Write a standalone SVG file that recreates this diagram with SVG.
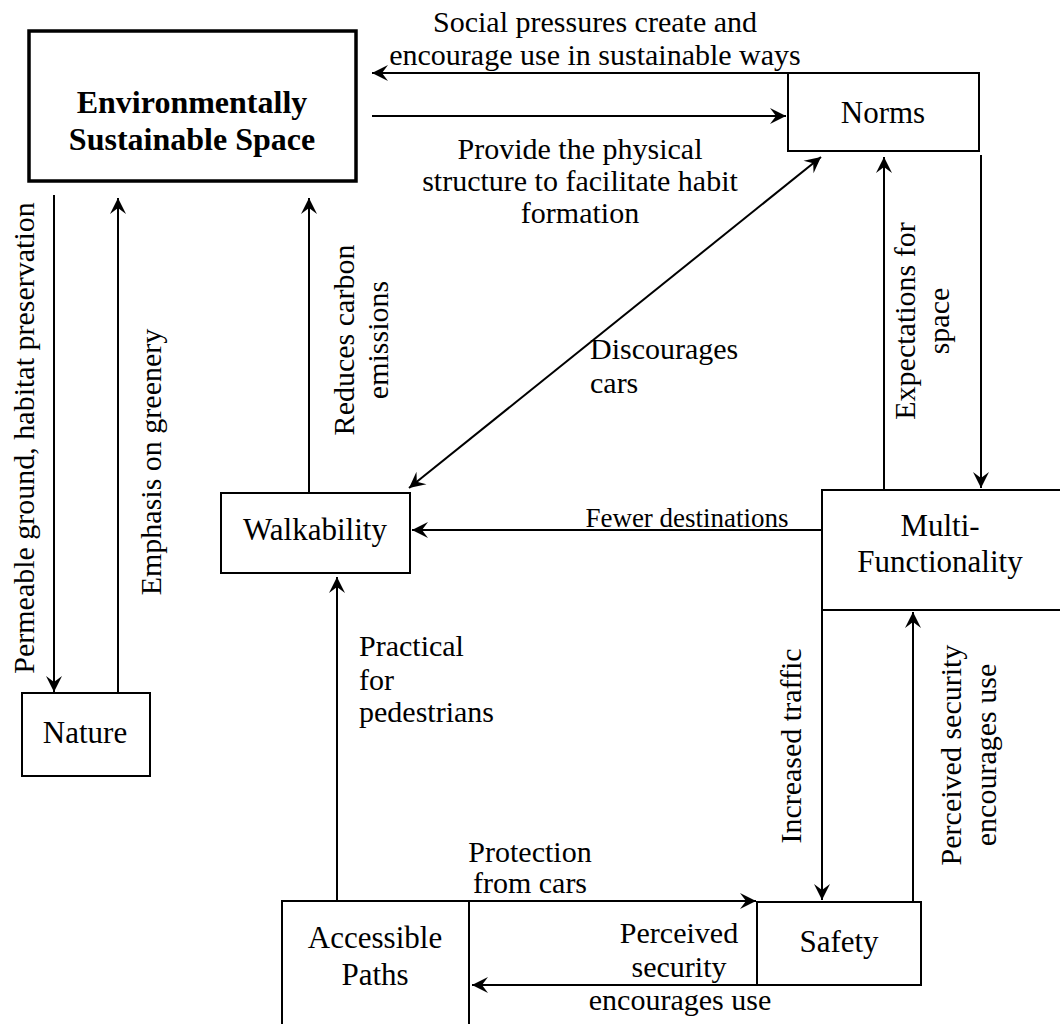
<svg xmlns="http://www.w3.org/2000/svg" width="1060" height="1024" viewBox="0 0 1060 1024">
<defs>
<style>
.box{fill:#fff;stroke:#000;stroke-width:2}
.bold{stroke-width:3.5}
.t{font-family:"Liberation Serif","Times New Roman",serif;font-size:30px;fill:#000}
.n{font-family:"Liberation Serif","Times New Roman",serif;font-size:31px;fill:#000;text-anchor:middle}
.c{text-anchor:middle}
.e{fill:none;stroke:#000;stroke-width:2}
</style>
<marker id="ah" markerUnits="userSpaceOnUse" markerWidth="24" markerHeight="24" viewBox="-18 -12 24 24" refX="0" refY="0" orient="auto-start-reverse">
<path d="M0,0 L-16,-8 L-10,0 L-16,8 Z" fill="#000"/>
</marker>
</defs>
<rect width="1060" height="1024" fill="#fff"/>

<g id="connectors">
<line class="e" x1="788" y1="73" x2="372" y2="73" marker-end="url(#ah)"/>
<line class="e" x1="372" y1="116" x2="786" y2="116" marker-end="url(#ah)"/>
<line class="e" x1="54" y1="195" x2="54" y2="692" marker-end="url(#ah)"/>
<line class="e" x1="118" y1="693" x2="118" y2="198" marker-end="url(#ah)"/>
<line class="e" x1="309" y1="493" x2="309" y2="198" marker-end="url(#ah)"/>
<line class="e" x1="409" y1="488" x2="821" y2="157" marker-start="url(#ah)" marker-end="url(#ah)"/>
<line class="e" x1="884" y1="490" x2="884" y2="157" marker-end="url(#ah)"/>
<line class="e" x1="981" y1="155" x2="981" y2="488" marker-end="url(#ah)"/>
<line class="e" x1="822" y1="530" x2="412" y2="530" marker-end="url(#ah)"/>
<line class="e" x1="337" y1="901" x2="337" y2="577" marker-end="url(#ah)"/>
<line class="e" x1="822" y1="610" x2="822" y2="900" marker-end="url(#ah)"/>
<line class="e" x1="913" y1="902" x2="913" y2="612" marker-end="url(#ah)"/>
<line class="e" x1="469" y1="901" x2="756" y2="901" marker-end="url(#ah)"/>
<line class="e" x1="757" y1="985" x2="472" y2="985" marker-end="url(#ah)"/>

<text class="t c" x="595" y="32">Social pressures create and</text>
<text class="t c" x="595" y="65">encourage use in sustainable ways</text>
<text class="t c" x="580" y="159">Provide the physical</text>
<text class="t c" x="580" y="191">structure to facilitate habit</text>
<text class="t c" x="580" y="223">formation</text>
<text class="t" x="590" y="359">Discourages</text>
<text class="t" x="590" y="393">cars</text>
<text class="t c" x="687" y="527" style="font-size:27px">Fewer destinations</text>
<text class="t" x="359" y="656">Practical</text>
<text class="t" x="359" y="690">for</text>
<text class="t" x="359" y="722">pedestrians</text>
<text class="t c" x="530" y="862">Protection</text>
<text class="t c" x="530" y="893">from cars</text>
<text class="t c" x="679" y="943">Perceived</text>
<text class="t c" x="679" y="977">security</text>
<text class="t c" x="680" y="1010">encourages use</text>
<text class="t c" transform="translate(34,438) rotate(-90)">Permeable ground, habitat preservation</text>
<text class="t c" transform="translate(161,462) rotate(-90)">Emphasis on greenery</text>
<text class="t c" transform="translate(354,340) rotate(-90)"><tspan x="0" y="0">Reduces carbon</tspan><tspan x="0" y="34">emissions</tspan></text>
<text class="t c" transform="translate(915,321) rotate(-90)"><tspan x="0" y="0">Expectations for</tspan><tspan x="0" y="34">space</tspan></text>
<text class="t c" transform="translate(801,746) rotate(-90)">Increased traffic</text>
<text class="t c" transform="translate(961,755) rotate(-90)"><tspan x="0" y="0">Perceived security</tspan><tspan x="0" y="35">encourages use</tspan></text>
</g>

<g id="node-ess">
<rect class="box bold" x="29" y="31" width="327" height="150"/>
<text class="n" x="192" y="113" style="font-weight:bold;font-size:32px">Environmentally</text>
<text class="n" x="192" y="150" style="font-weight:bold;font-size:32px">Sustainable Space</text>
</g>
<g id="node-norms">
<rect class="box" x="788" y="73" width="191" height="78"/>
<text class="n" x="883" y="123">Norms</text>
</g>
<g id="node-walkability">
<rect class="box" x="221" y="493" width="189" height="80"/>
<text class="n" x="315" y="540">Walkability</text>
</g>
<g id="node-multi">
<rect class="box" x="822" y="490" width="250" height="120"/>
<text class="n" x="940" y="536">Multi-</text>
<text class="n" x="940" y="572">Functionality</text>
</g>
<g id="node-nature">
<rect class="box" x="22" y="693" width="128" height="83"/>
<text class="n" x="85" y="743">Nature</text>
</g>
<g id="node-accessible">
<rect class="box" x="282" y="901" width="187" height="140"/>
<text class="n" x="375" y="948">Accessible</text>
<text class="n" x="375" y="985">Paths</text>
</g>
<g id="node-safety">
<rect class="box" x="757" y="902" width="164" height="83"/>
<text class="n" x="839" y="952">Safety</text>
</g>
</svg>
